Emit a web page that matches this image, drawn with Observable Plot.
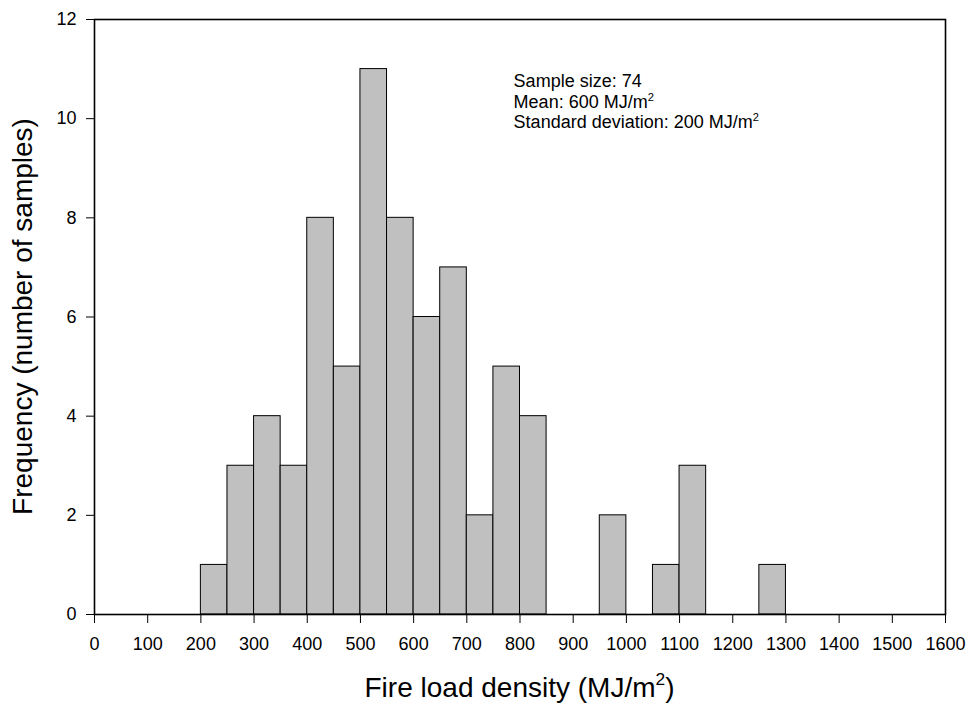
<!DOCTYPE html>
<html><head><meta charset="utf-8">
<script src="https://cdn.jsdelivr.net/npm/d3@7"></script>
<script src="https://cdn.jsdelivr.net/npm/@observablehq/plot@0.6"></script>
<style>body{margin:0;background:#fff} svg{display:block}</style>
</head><body><div id="chart"></div>
<script>
// ---- data ----
const binStart  = [200, 250, 300, 350, 400, 450, 500, 550, 600, 650, 700, 750, 800, 950, 1050, 1100, 1250];
const binCounts = [1,   3,   4,   3,   8,   5,   11,  8,   6,   7,   2,   5,   4,   2,   1,    3,    1];
const binWidth = 50;
const xTicks = [0, 100, 200, 300, 400, 500, 600, 700, 800, 900, 1000, 1100, 1200, 1300, 1400, 1500, 1600];
const yTicks = [0, 2, 4, 6, 8, 10, 12];
const xTitle = "Fire load density (MJ/m²)";
const yTitle = "Frequency (number of samples)";
const noteLines = ["Sample size: 74", "Mean: 600 MJ/m²", "Standard deviation: 200 MJ/m²"];
const noteX = 788;
const noteY = [10.75, 10.33, 9.92];

const bins = binStart.map((x0, i) => ({x1: x0, x2: x0 + binWidth, count: binCounts[i]}));
const notes = noteLines.map((t, i) => ({text: t, x: noteX, y: noteY[i]}));

const W = 970, H = 707, mL = 94, mR = 25, mT = 19, mB = 93;
const FONT = "'Liberation Sans', Arial, Helvetica, sans-serif";
const TICK_FS = 18, NOTE_FS = 18, TITLE_FS = 28;

const chart = Plot.plot({
  width: W, height: H,
  marginLeft: mL, marginRight: mR, marginTop: mT, marginBottom: mB,
  style: {fontFamily: FONT, fontSize: TICK_FS + "px", color: "#000", background: "#fff"},
  x: {domain: [0, 1600], ticks: xTicks, tickSize: 9, tickPadding: 14, label: null, tickFormat: d => String(d)},
  y: {domain: [0, 12], ticks: yTicks, tickSize: 8, tickPadding: 10, label: null, tickFormat: d => String(d)},
  marks: [
    Plot.rectY(bins, {x1: "x1", x2: "x2", y: "count", fill: "#c0c0c0", stroke: "#000", strokeWidth: 1, inset: 0}),
    Plot.frame({stroke: "#000", strokeWidth: 1.6}),
    Plot.text(notes, {x: "x", y: "y", text: "text", textAnchor: "start", fontSize: NOTE_FS, fill: "#000"})
  ]
});

const svg = d3.select(chart);
svg.selectAll("line").attr("stroke-width", 1.5);
svg.selectAll("g[aria-label*='axis']").attr("font-size", TICK_FS).style("font-size", TICK_FS + "px");

svg.append("text")
  .attr("x", mL + (W - mL - mR) / 2).attr("y", 697)
  .attr("text-anchor", "middle").attr("font-size", TITLE_FS).attr("font-family", FONT).attr("fill", "#000")
  .attr("data-fs", TITLE_FS)
  .text(xTitle);
svg.append("text")
  .attr("transform", `translate(32,${(mT + H - mB) / 2}) rotate(-90)`)
  .attr("text-anchor", "middle").attr("font-size", TITLE_FS).attr("font-family", FONT).attr("fill", "#000")
  .attr("data-fs", TITLE_FS)
  .text(yTitle);

// superscripts
svg.selectAll("text").each(function() {
  const el = this;
  const fs = +el.getAttribute("data-fs") || (el.closest("g[aria-label='text']") ? NOTE_FS : TICK_FS);
  if (el.children.length) {
    d3.select(el).selectAll("tspan").each(function() { supify(this, fs); });
  } else supify(el, fs);
});
function supify(el, fs) {
  const s = el.textContent;
  if (!s.includes("²")) return;
  const parts = s.split("²");
  el.textContent = "";
  const sel = d3.select(el);
  parts.forEach((p, i) => {
    if (i > 0) {
      sel.append("tspan").attr("dy", -0.42 * fs).attr("font-size", 0.62 * fs).text("2");
      sel.append("tspan").attr("dy", 0.42 * fs).text(p);
    } else sel.append("tspan").text(p);
  });
}

document.getElementById("chart").appendChild(chart);
</script>
</body></html>
